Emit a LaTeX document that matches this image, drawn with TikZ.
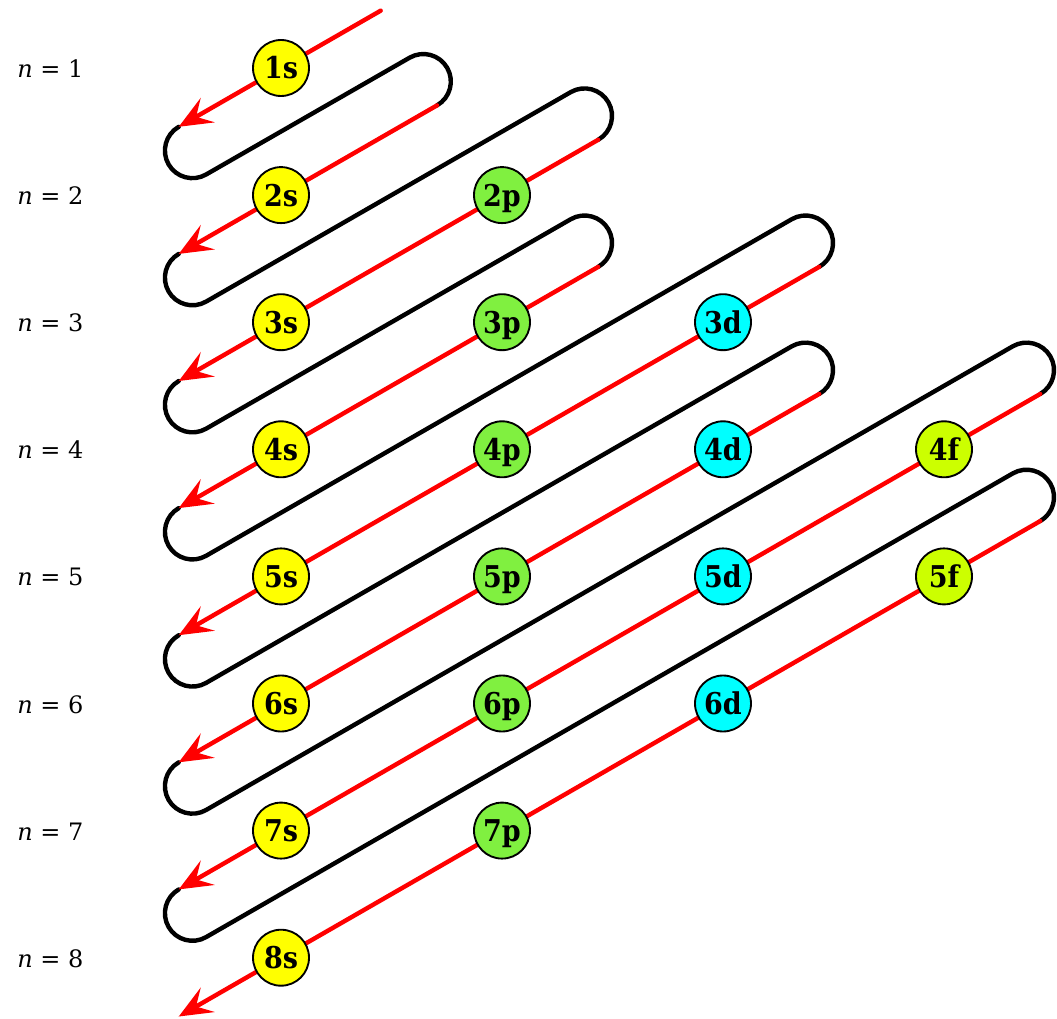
\documentclass[tikz,border=0pt]{standalone}
\usepackage{fontspec}
\setmainfont{DejaVu Serif}
\newfontfamily\circfont{DejaVu Serif}[FakeStretch=0.9]
\usetikzlibrary{calc,arrows.meta,backgrounds}
\definecolor{sc}{RGB}{255,255,0}
\definecolor{pc}{RGB}{128,240,64}
\definecolor{dc}{RGB}{0,255,255}
\definecolor{fc}{RGB}{204,255,0}
\definecolor{redline}{RGB}{255,0,0}
\begin{document}
\begin{tikzpicture}[x=0.75pt,y=-0.75pt,
  orb/.style={circle,draw=black,line width=1.4pt,minimum size=42pt,inner sep=0pt,
    font=\circfont\bfseries\fontsize{22.5}{22.5}\selectfont,text height=16.4pt,text depth=0pt},
  lab/.style={anchor=base west,inner sep=0pt,font=\fontsize{18}{18}\selectfont},
  blk/.style={draw=black,line width=3.3pt,line cap=round},
  rl/.style={draw=redline,line width=3.3pt,line cap=round,
    -{Stealth[length=25pt,width=21pt,inset=10pt]}}]
\useasboundingbox (0,0) rectangle (1057,1019);
% labels
\node[lab] (n1) at (17,77.5) {\textit{n} = 1};
\node[lab] (n2) at (17,204.6) {\textit{n} = 2};
\node[lab] (n3) at (17,331.7) {\textit{n} = 3};
\node[lab] (n4) at (17,458.8) {\textit{n} = 4};
\node[lab] (n5) at (17,585.9) {\textit{n} = 5};
\node[lab] (n6) at (17,713.0) {\textit{n} = 6};
\node[lab] (n7) at (17,840.1) {\textit{n} = 7};
\node[lab] (n8) at (17,967.2) {\textit{n} = 8};
% orbitals
\node[orb,fill=sc] (1s) at (281,68) {1s};
\node[orb,fill=sc] (2s) at (281,195.1) {2s};
\node[orb,fill=pc] (2p) at (502,195.1) {2p};
\node[orb,fill=sc] (3s) at (281,322.2) {3s};
\node[orb,fill=pc] (3p) at (502,322.2) {3p};
\node[orb,fill=dc] (3d) at (723,322.2) {3d};
\node[orb,fill=sc] (4s) at (281,449.3) {4s};
\node[orb,fill=pc] (4p) at (502,449.3) {4p};
\node[orb,fill=dc] (4d) at (723,449.3) {4d};
\node[orb,fill=fc] (4f) at (944,449.3) {4f};
\node[orb,fill=sc] (5s) at (281,576.4) {5s};
\node[orb,fill=pc] (5p) at (502,576.4) {5p};
\node[orb,fill=dc] (5d) at (723,576.4) {5d};
\node[orb,fill=fc] (5f) at (944,576.4) {5f};
\node[orb,fill=sc] (6s) at (281,703.5) {6s};
\node[orb,fill=pc] (6p) at (502,703.5) {6p};
\node[orb,fill=dc] (6d) at (723,703.5) {6d};
\node[orb,fill=sc] (7s) at (281,830.6) {7s};
\node[orb,fill=pc] (7p) at (502,830.6) {7p};
\node[orb,fill=sc] (8s) at (281,957.7) {8s};
% path end points
\coordinate (t1) at ($(1s)+(-29.9:115)$);
\coordinate (t2) at ($(2s)+(-29.9:180)$);
\coordinate (t3) at ($(2p)+(-29.9:111)$);
\coordinate (t4) at ($(3p)+(-29.9:111)$);
\coordinate (t5) at ($(3d)+(-29.9:111)$);
\coordinate (t6) at ($(4d)+(-29.9:111)$);
\coordinate (t7) at ($(4f)+(-29.9:111)$);
\coordinate (t8) at ($(5f)+(-29.9:111)$);
\coordinate (e1) at ($(1s)+(150.1:118)$);
\coordinate (e2) at ($(2s)+(150.1:118)$);
\coordinate (e3) at ($(3s)+(150.1:118)$);
\coordinate (e4) at ($(4s)+(150.1:118)$);
\coordinate (e5) at ($(5s)+(150.1:118)$);
\coordinate (e6) at ($(6s)+(150.1:118)$);
\coordinate (e7) at ($(7s)+(150.1:118)$);
\coordinate (e8) at ($(8s)+(150.1:118)$);
\begin{scope}[on background layer]
\fill[white] (0,0) rectangle (1057,1019);
\foreach \a/\b in {1/2,2/3,3/4,4/5,5/6,6/7,7/8}{
  \draw[blk] (e\a) arc[start angle=240.1,end angle=60.1,radius=27.5]
    -- ($(t\b)+(240.1:55)$) arc[start angle=240.1,end angle=420.1,radius=27.5];
}
\foreach \k in {1,...,8}{
  \draw[rl] (t\k) -- (e\k);
}
\end{scope}
\end{tikzpicture}
\end{document}
